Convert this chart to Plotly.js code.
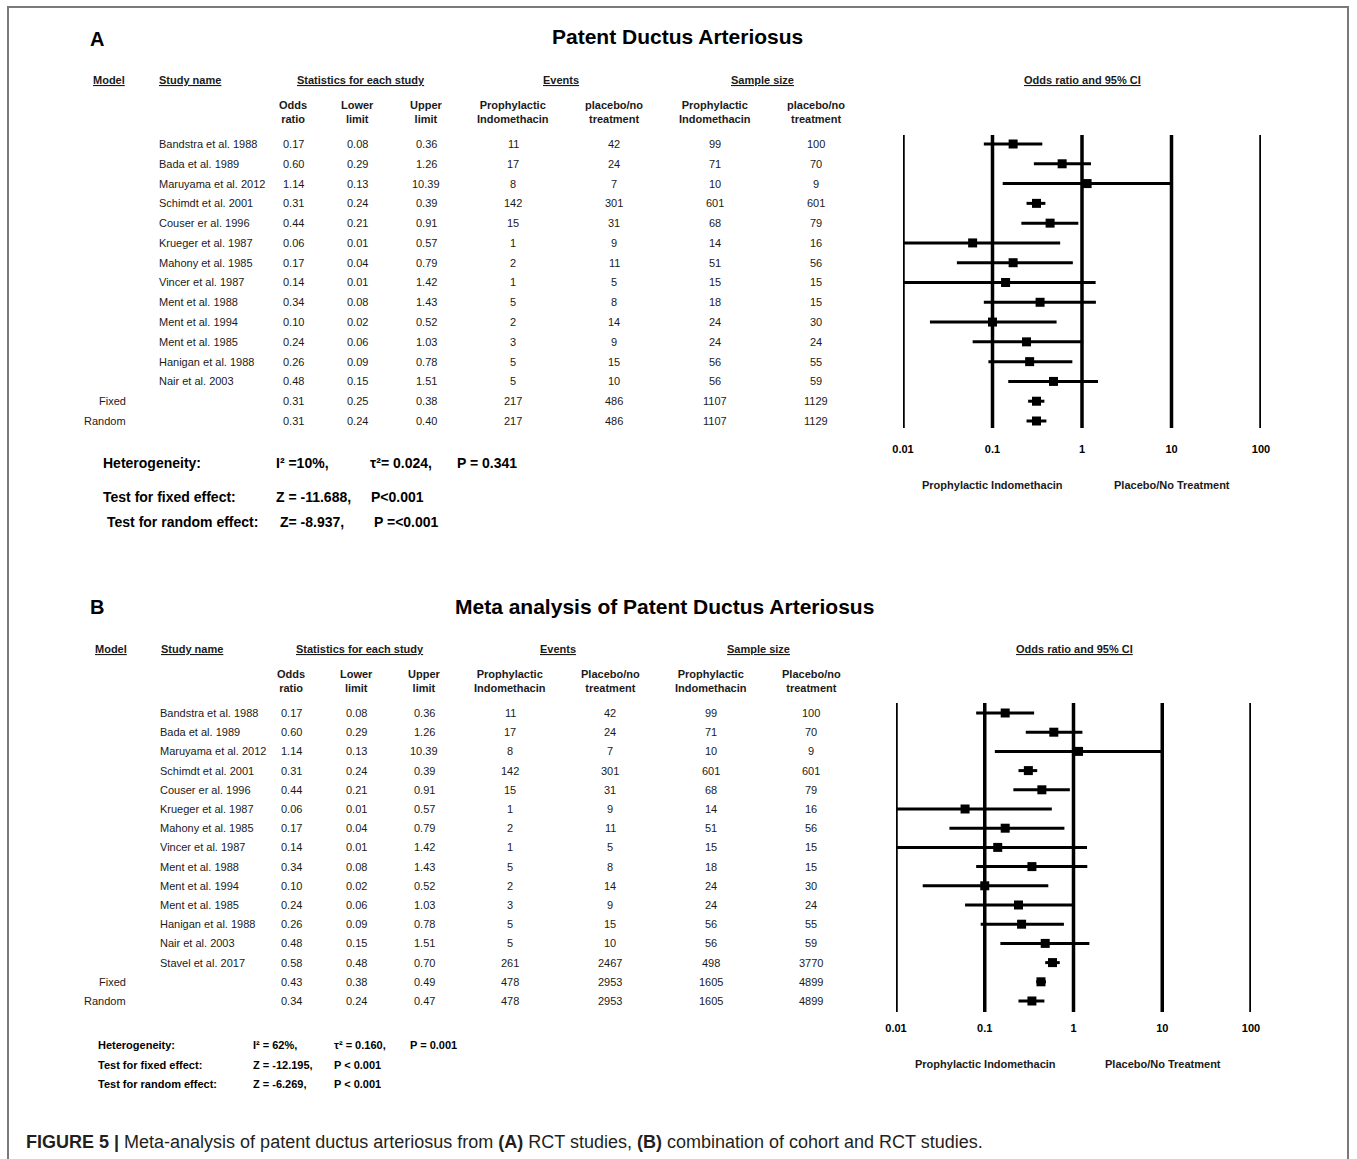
<!DOCTYPE html>
<html>
<head>
<meta charset="utf-8">
<script src="https://cdn.plot.ly/plotly-3.0.1.min.js"></script>
<style>html,body{margin:0;padding:0;background:#fff;}</style>
</head>
<body>
<div id="chart" style="width:1357px;height:1159px;"></div>
<script>
// ---------------- DATA ----------------
const studiesA = ["Bandstra et al. 1988","Bada et al. 1989","Maruyama et al. 2012","Schimdt et al. 2001","Couser er al. 1996","Krueger et al. 1987","Mahony et al. 1985","Vincer et al. 1987","Ment et al. 1988","Ment et al. 1994","Ment et al. 1985","Hanigan et al. 1988","Nair et al. 2003"];
const pooledLabels = ["Fixed","Random"];
const orA  = [0.17,0.60,1.14,0.31,0.44,0.06,0.17,0.14,0.34,0.10,0.24,0.26,0.48,0.31,0.31];
const lowA = [0.08,0.29,0.13,0.24,0.21,0.01,0.04,0.01,0.08,0.02,0.06,0.09,0.15,0.25,0.24];
const upA  = [0.36,1.26,10.39,0.39,0.91,0.57,0.79,1.42,1.43,0.52,1.03,0.78,1.51,0.38,0.40];
const evPA = [11,17,8,142,15,1,2,1,5,2,3,5,5,217,217];
const evCA = [42,24,7,301,31,9,11,5,8,14,9,15,10,486,486];
const nPA  = [99,71,10,601,68,14,51,15,18,24,24,56,56,1107,1107];
const nCA  = [100,70,9,601,79,16,56,15,15,30,24,55,59,1129,1129];

const studiesB = ["Bandstra et al. 1988","Bada et al. 1989","Maruyama et al. 2012","Schimdt et al. 2001","Couser er al. 1996","Krueger et al. 1987","Mahony et al. 1985","Vincer et al. 1987","Ment et al. 1988","Ment et al. 1994","Ment et al. 1985","Hanigan et al. 1988","Nair et al. 2003","Stavel et al. 2017"];
const orB  = [0.17,0.60,1.14,0.31,0.44,0.06,0.17,0.14,0.34,0.10,0.24,0.26,0.48,0.58,0.43,0.34];
const lowB = [0.08,0.29,0.13,0.24,0.21,0.01,0.04,0.01,0.08,0.02,0.06,0.09,0.15,0.48,0.38,0.24];
const upB  = [0.36,1.26,10.39,0.39,0.91,0.57,0.79,1.42,1.43,0.52,1.03,0.78,1.51,0.70,0.49,0.47];
const evPB = [11,17,8,142,15,1,2,1,5,2,3,5,5,261,478,478];
const evCB = [42,24,7,301,31,9,11,5,8,14,9,15,10,2467,2953,2953];
const nPB  = [99,71,10,601,68,14,51,15,18,24,24,56,56,498,1605,1605];
const nCB  = [100,70,9,601,79,16,56,15,15,30,24,55,59,3770,4899,4899];

const tickVals = [0.01,0.1,1,10,100];
const tickText = ["0.01","0.1","1","10","100"];

// ---------------- LAYOUT HELPERS ----------------
const W = 1357, H = 1159;
const px = x => x / W;
const py = y => 1 - y / H;
const FONT = "Liberation Sans, Arial, sans-serif";
const annotations = [];
const shapes = [];

function txt(x, y, text, opt) {
  opt = opt || {};
  annotations.push({
    xref: opt.xref || 'paper', yref: opt.yref || 'paper',
    x: opt.xref ? x : px(x), y: opt.yref ? y : py(y),
    text: text, showarrow: false,
    xanchor: opt.xanchor || 'center', yanchor: 'middle',
    align: opt.align || 'center',
    font: Object.assign({family: FONT, size: opt.size || 11, color: opt.color || '#1a1a1a'}, opt.font || {})
  });
}

function panel(cfg) {
  const {studies, or, low, up, evP, evC, nP, nC, xa, ya, cols, nameX, modelRight} = cfg;
  const n = or.length;
  for (let i = 0; i < n; i++) {
    if (i < studies.length) txt(nameX, i, studies[i], {yref: ya, xanchor: 'left', align: 'left'});
    else txt(modelRight, i, pooledLabels[i - studies.length], {yref: ya, xanchor: 'right', align: 'right'});
    txt(cols[0], i, or[i].toFixed(2), {yref: ya});
    txt(cols[1], i, low[i].toFixed(2), {yref: ya});
    txt(cols[2], i, up[i].toFixed(2), {yref: ya});
    txt(cols[3], i, String(evP[i]), {yref: ya});
    txt(cols[4], i, String(evC[i]), {yref: ya});
    txt(cols[5], i, String(nP[i]), {yref: ya});
    txt(cols[6], i, String(nC[i]), {yref: ya});
  }
  const xref = xa === 'xaxis' ? 'x' : 'x2';
  tickVals.forEach(v => {
    shapes.push({type: 'line', xref: xref, yref: ya + ' domain', x0: v, x1: v, y0: 0, y1: 1,
      line: {color: 'black', width: 3.5}});
  });
}

// ---------------- PANEL A ----------------
const colsA = [293, 357, 426, 513, 614, 715, 816];
txt(97, 39, "<b>A</b>", {size: 20, color: 'black'});
txt(677, 37, "<b>Patent Ductus Arteriosus</b>", {size: 21, color: 'black'});
const ul = {lineposition: 'under'};
txt(109, 80, "<b>Model</b>", {font: ul});
txt(157, 80, "<b>Study name</b>", {xanchor: 'left', font: ul});
txt(361, 80, "<b>Statistics for each study</b>", {font: ul});
txt(561, 80, "<b>Events</b>", {font: ul});
txt(763, 80, "<b>Sample size</b>", {font: ul});
txt(1082, 80, "<b>Odds ratio and 95% CI</b>", {font: ul});
const subA = ["Odds<br>ratio","Lower<br>limit","Upper<br>limit","Prophylactic<br>Indomethacin","placebo/no<br>treatment","Prophylactic<br>Indomethacin","placebo/no<br>treatment"];
subA.forEach((s, k) => txt(colsA[k], 112, "<b>" + s + "</b>"));
panel({studies: studiesA, or: orA, low: lowA, up: upA, evP: evPA, evC: evCA, nP: nPA, nC: nCA,
  xa: 'xaxis', ya: 'y', cols: colsA, nameX: 157, modelRight: 128});
const hA = {xanchor: 'left', size: 14, color: 'black'};
txt(101, 463, "<b>Heterogeneity:</b>", hA);
txt(274, 463, "<b>I² =10%,</b>", hA);
txt(368, 463, "<b>τ²= 0.024,</b>", hA);
txt(455, 463, "<b>P = 0.341</b>", hA);
txt(101, 497, "<b>Test for fixed effect:</b>", hA);
txt(274, 497, "<b>Z = -11.688,</b>", hA);
txt(369, 497, "<b>P<0.001</b>", hA);
txt(105, 522, "<b>Test for random effect:</b>", hA);
txt(278, 522, "<b>Z= -8.937,</b>", hA);
txt(372, 522, "<b>P =<0.001</b>", hA);
txt(992, 485, "<b>Prophylactic Indomethacin</b>");
txt(1172, 485, "<b>Placebo/No Treatment</b>");

// ---------------- PANEL B ----------------
const colsB = [291, 356, 424, 510, 610, 711, 811];
txt(97, 607, "<b>B</b>", {size: 20, color: 'black'});
txt(664, 607, "<b>Meta analysis of Patent Ductus Arteriosus</b>", {size: 21, color: 'black'});
txt(111, 649, "<b>Model</b>", {font: ul});
txt(159, 649, "<b>Study name</b>", {xanchor: 'left', font: ul});
txt(360, 649, "<b>Statistics for each study</b>", {font: ul});
txt(558, 649, "<b>Events</b>", {font: ul});
txt(758, 649, "<b>Sample size</b>", {font: ul});
txt(1074, 649, "<b>Odds ratio and 95% CI</b>", {font: ul});
const subB = ["Odds<br>ratio","Lower<br>limit","Upper<br>limit","Prophylactic<br>Indomethacin","Placebo/no<br>treatment","Prophylactic<br>Indomethacin","Placebo/no<br>treatment"];
subB.forEach((s, k) => txt(colsB[k], 681, "<b>" + s + "</b>"));
panel({studies: studiesB, or: orB, low: lowB, up: upB, evP: evPB, evC: evCB, nP: nPB, nC: nCB,
  xa: 'xaxis2', ya: 'y2', cols: colsB, nameX: 158, modelRight: 128});
const hB = {xanchor: 'left', color: 'black'};
txt(96, 1045, "<b>Heterogeneity:</b>", hB);
txt(251, 1045, "<b>I² = 62%,</b>", hB);
txt(332, 1045, "<b>τ² = 0.160,</b>", hB);
txt(408, 1045, "<b>P = 0.001</b>", hB);
txt(96, 1065, "<b>Test for fixed effect:</b>", hB);
txt(251, 1065, "<b>Z = -12.195,</b>", hB);
txt(332, 1065, "<b>P < 0.001</b>", hB);
txt(96, 1084, "<b>Test for random effect:</b>", hB);
txt(251, 1084, "<b>Z = -6.269,</b>", hB);
txt(332, 1084, "<b>P < 0.001</b>", hB);
txt(985, 1064, "<b>Prophylactic Indomethacin</b>");
txt(1163, 1064, "<b>Placebo/No Treatment</b>");

// caption
annotations.push({xref: 'paper', yref: 'paper', x: px(24), y: py(1142), xanchor: 'left', yanchor: 'middle',
  showarrow: false, align: 'left',
  text: "<b>FIGURE 5 |</b> Meta-analysis of patent ductus arteriosus from <b>(A)</b> RCT studies, <b>(B)</b> combination of cohort and RCT studies.",
  font: {family: "Liberation Sans Narrow, Arial Narrow, Liberation Sans, sans-serif", size: 18, color: '#231f20'}});

// frame
shapes.push({type: 'path', xref: 'paper', yref: 'paper',
  path: `M ${px(8)} ${py(1200)} L ${px(8)} ${py(7)} L ${px(1348)} ${py(7)} L ${px(1348)} ${py(1200)}`,
  line: {color: '#7a7a7a', width: 2}});

// ---------------- TRACES ----------------
function trace(or, low, up, xa, ya) {
  return {
    type: 'scatter', mode: 'markers', x: or, y: or.map((_, i) => i), xaxis: xa, yaxis: ya,
    marker: {symbol: 'square', size: 9, color: 'black'},
    error_x: {type: 'data', symmetric: false, array: up.map((u, i) => u - or[i]),
      arrayminus: low.map((l, i) => or[i] - l), thickness: 3, width: 0, color: 'black'},
    cliponaxis: false, hoverinfo: 'x', showlegend: false
  };
}
const data = [trace(orA, lowA, upA, 'x', 'y'), trace(orB, lowB, upB, 'x2', 'y2')];

function xax(d0, d1, anchor, standoff) {
  return {domain: [px(d0), px(d1)], type: 'log', range: [-2, 2], anchor: anchor,
    tickvals: tickVals, ticktext: tickText.map(t => '<b>' + t + '</b>'), showgrid: false, zeroline: false,
    showline: false, ticks: '', ticklabelstandoff: standoff,
    tickfont: {family: FONT, size: 11, color: 'black'}, fixedrange: true};
}
function yax(top, bottom, range, anchor) {
  return {domain: [py(bottom), py(top)], range: range, anchor: anchor, visible: false, fixedrange: true};
}

const layout = {
  width: W, height: H, autosize: false,
  margin: {l: 0, r: 0, t: 0, b: 0, pad: 0},
  paper_bgcolor: 'white', plot_bgcolor: 'rgba(0,0,0,0)',
  showlegend: false,
  xaxis: xax(903, 1261, 'y', 13),
  yaxis: yax(135, 428, [14.354, -0.455], 'x'),
  xaxis2: xax(896, 1251, 'y2', 8),
  yaxis2: yax(703, 1012, [15.573, -0.521], 'x2'),
  annotations: annotations,
  shapes: shapes
};

Plotly.newPlot('chart', data, layout, {displayModeBar: false, staticPlot: true});
</script>
</body>
</html>
